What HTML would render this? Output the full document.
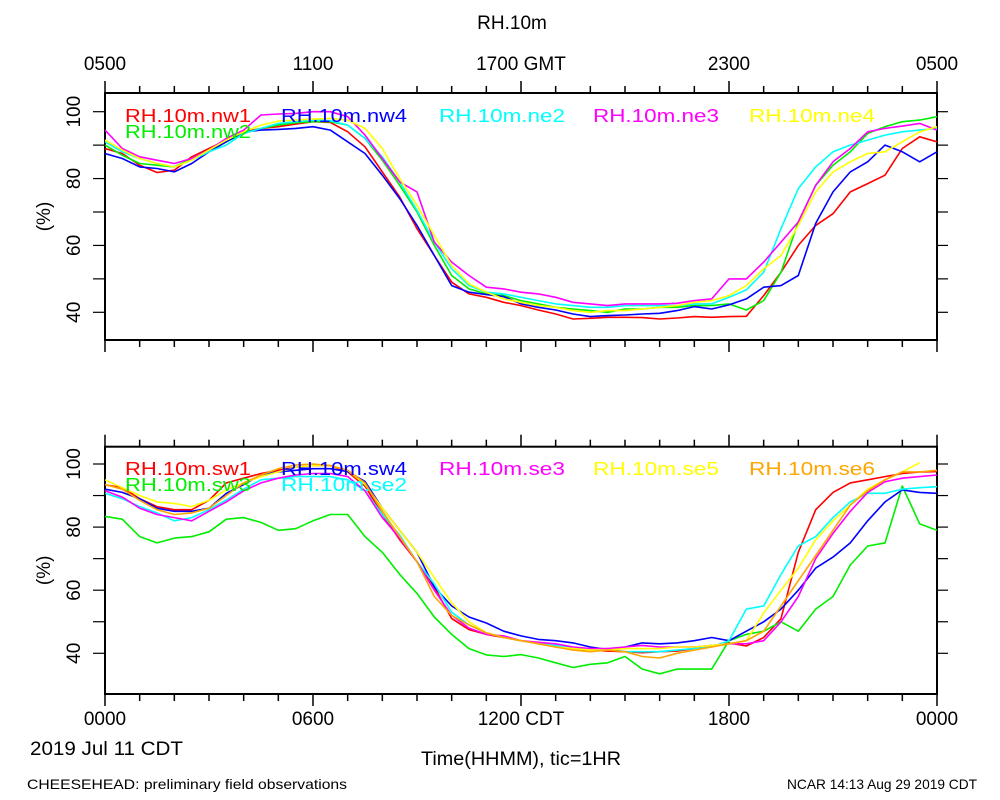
<!DOCTYPE html>
<html><head><meta charset="utf-8"><style>
body{margin:0;background:#fff;}
svg{display:block;font-family:"Liberation Sans",sans-serif;}
</style></head><body>
<svg id="chart" width="1000" height="800" viewBox="0 0 1000 800">
<text x="512" y="29" font-size="19" text-anchor="middle">RH.10m</text>
<g id="gmt-labels"></g>
<g id="p1"></g>
<g id="p2"></g>
<g id="cdt-labels"></g>
<text x="30" y="755" font-size="19" textLength="153" lengthAdjust="spacingAndGlyphs">2019 Jul 11 CDT</text>
<text x="521" y="765" font-size="19" text-anchor="middle" textLength="200" lengthAdjust="spacingAndGlyphs">Time(HHMM), tic=1HR</text>
<text x="27" y="789" font-size="14" textLength="320" lengthAdjust="spacingAndGlyphs">CHEESEHEAD: preliminary field observations</text>
<text x="977" y="789" font-size="14" text-anchor="end" textLength="190" lengthAdjust="spacingAndGlyphs">NCAR 14:13 Aug 29 2019 CDT</text>
</svg>
<script>
const hours = [0,0.5,1,1.5,2,2.5,3,3.5,4,4.5,5,5.5,6,6.5,7,7.5,8,8.5,9,9.5,10,10.5,11,11.5,12,12.5,13,13.5,14,14.5,15,15.5,16,16.5,17,17.5,18,18.5,19,19.5,20,20.5,21,21.5,22,22.5,23,23.5,24];
const gmtLabels = ["0500","1100","1700 GMT","2300","0500"];
const cdtLabels = ["0000","0600","1200 CDT","1800","0000"];
const yTickLabels = [40,60,80,100];
const topNames = ["RH.10m.nw1","RH.10m.nw2","RH.10m.nw4","RH.10m.ne2","RH.10m.ne3","RH.10m.ne4"];
const botNames = ["RH.10m.sw1","RH.10m.sw3","RH.10m.sw4","RH.10m.se2","RH.10m.se3","RH.10m.se5","RH.10m.se6"];
const nw1 = [89,87.5,84,81.8,82.5,86.5,89,91.5,94,95,95.5,96.3,97,96.8,94,89.5,82,74.5,65,57,49,45.5,44.5,43,42,40.7,39.5,38,38.2,38.5,38.5,38.4,38,38.3,38.7,38.5,38.7,38.8,45,52,60,66,69.5,76,78.5,81,89,92.5,91];
const nw2 = [90,87,84.5,84,83.5,86,88.5,91,93.5,95,96,96.7,97,97,96,92,85.5,78,70,60,51,47,45.5,45,43.5,42.5,41.5,41,40.5,40,41,41,41.5,41.5,42,42,42.5,40.7,43.5,52,67,78,84,88,93.5,95.5,97,97.5,98.5];
const nw4 = [87.5,86,83.5,83,82,84.5,88,91,94,94.5,94.7,95,95.5,94.5,91,87.5,81,74,66,57,48,46,45.3,44.7,42.5,41.5,40.7,39.5,38.7,39,39.2,39.5,39.7,40.5,41.7,41,42.2,44,47.5,48,51,66.6,76,82,85,90,88,85,88];
const ne2 = [91,88,86,84.5,83.5,85.5,88,90,93.5,95,96.5,97,97.5,97.3,96,92,86.5,79,70.5,61,53,48,46,45.5,44.5,43.5,42.5,42,41.5,41.5,42,42,42,42,42.5,42.5,44.5,46.7,52,65,77,83.5,88,90,91.5,93,94,94.5,95];
const ne3 = [94.5,89,86.5,85.5,84.5,86,88.5,92,94.5,99,99.3,99.5,100,100,98.5,93,86,79,76,61,55,51,47.5,47,46,45.5,44.5,43,42.5,42,42.5,42.5,42.5,42.7,43.5,44,50,50,55,61,67,78,85,89,94,95,95.7,96.5,94.5];
const ne4 = [91.5,88.5,86,84.5,83.5,85.5,88.5,91.5,94,96,97.2,97.5,97.8,98,97.5,95,89,80,72,63,54,48.5,46,44,43,42,41.5,40.5,40,40.5,40.5,41,41.5,42,43,43.5,45,48,53,57,66,76,82,85,87.5,88,91,94,95.5];
const sw1 = [93.4,92.5,89,86.5,85.5,85.5,88.5,94,95.5,97,98,99,99.5,99.5,97.5,93,84,76,69,61,51,47.5,46,45,44,43.3,42,41.2,41,40.7,40.5,40.2,40.5,40.7,41.5,42.3,43.3,42.3,45,51,72,85.5,91,94,95,96,97,97.5,97.6];
const sw3 = [83.4,82.5,77,75,76.5,77,78.5,82.5,83,81.5,79,79.5,82,84,84,77,72,65,59,51.5,46,41.5,39.5,39,39.6,38.5,37,35.5,36.5,37,39,35,33.5,35,35,35,44,46,47,50,47,54,58,68,74,75,93,81,79];
const sw4 = [92,91,89,86,85,85,86,90.7,93.5,96.5,97.5,98,98.5,98.5,97.6,94.5,86,79,72,61,55,51.5,49.6,47,45.5,44.4,44,43.3,42,41.2,42,43.3,43,43.3,44,45,44,47,50,54,60,67,70.5,75,82,88,91.8,91,90.7];
const se2 = [90.7,89,86.5,84.5,82,83,85.5,88.6,92,95,95.5,96,96,96,95,91.5,84,77.5,69,62,53,49,46.5,45,44,43,42.5,42,41,41.5,40.5,40.5,40.5,41,41.5,42,44,54,55,65,74,77,83,88,90.7,90.7,92,92.5,92.8];
const se3 = [91.5,89.5,86,84,83,82,85,88,91.5,94,95.5,96.5,97,97,96,91.5,83,76.5,69,60,52,48,46,45.5,44,43.5,43,42,41.5,41.5,42,42.5,42,42,42,42.5,43,43,44,50,58,70,78,85,91,94.4,95.5,96,96.5];
const se5 = [95,92.5,90,88,87.5,86.5,88.5,91.8,94,96,97.5,99,99.5,99.5,98,93.5,86,79,72,64,56,50,46.5,45,44,43,42,41.5,41,41,41.5,41.5,41.5,42,42,42.5,43,44,52.8,60,67,76,82,87,92,95,97.5,100.4,null];
const se6 = [93.5,92,88.5,85.5,84,84.5,86,90,94,96.5,98.5,99.7,100,99.5,98,94,85,77,69,58,52,49,46.5,45,44,43,42,41,40.5,41,40.5,39,38.5,40,41,42,43,44,47,55,63,71,79,87,91.5,95,97.5,97.5,98];

const NS="http://www.w3.org/2000/svg";
const X0=105,X1=937;
const xS=h=>X0+(X1-X0)*h/24;
function mk(tag,parent,attrs){const e=document.createElementNS(NS,tag);for(const k in attrs)e.setAttribute(k,attrs[k]);parent.appendChild(e);return e;}

function panel(g,top,bot,y40,y100,series,colors,names,legendY,legendCols){
  const yS=v=>y40+(y100-y40)*(v-40)/60;
  const fr=mk('rect',g,{x:X0,y:top,width:X1-X0,height:bot-top,fill:'none',stroke:'#000','stroke-width':2});
  
  
  for(let h=0;h<=24;h++){
    const L=(h%6===0)?12:7;const x=xS(h);
    const t1=mk('line',g,{x1:x,x2:x,y1:top,y2:top-L,stroke:'#000','stroke-width':1.5});
    
    
    const t2=mk('line',g,{x1:x,x2:x,y1:bot,y2:bot+L,stroke:'#000','stroke-width':1.5});
    
    
  }
  for(let v=40;v<=100;v+=10){
    const y=yS(v);
    const a=mk('line',g,{x1:X0-12,x2:X0,y1:y,y2:y,stroke:'#000','stroke-width':1.2});
    
    
    const b=mk('line',g,{x1:X1,x2:X1+11,y1:y,y2:y,stroke:'#000','stroke-width':1.2});
    
    
  }
  yTickLabels.forEach(v=>{
    const y=yS(v);
    const t=mk('text',g,{x:0,y:0,'font-size':19,'text-anchor':'middle',transform:`translate(80,${y}) rotate(-90)`});
    t.textContent=v;
    
    
  });
  const yl=mk('text',g,{x:0,y:0,'font-size':19,'text-anchor':'middle',transform:`translate(50,${(top+bot)/2}) rotate(-90)`});
  yl.textContent='(%)';
  
  
  const cp=mk('clipPath',g,{id:'clip'+Math.round(top)});mk('rect',cp,{x:X0,y:top,width:X1-X0,height:bot-top});
  series.forEach((s,i)=>{
    let d='';let pen=false;
    s.forEach((v,j)=>{if(v===null){pen=false;return;}d+=(pen?'L':'M')+xS(hours[j]).toFixed(1)+','+yS(v).toFixed(1);pen=true;});
    const p=mk('path',g,{d:d,fill:'none',stroke:colors[i],'stroke-width':1.6,'stroke-linejoin':'round','clip-path':`url(#clip${Math.round(top)})`});
    
    
  });
  names.forEach((n,i)=>{
    const [cx,row]=legendCols[i];
    const t=mk('text',g,{x:cx,y:legendY+row*16,'font-size':18,fill:colors[i],textLength:126,lengthAdjust:'spacingAndGlyphs'});
    t.textContent=n;
    
    
  });
}
panel(document.getElementById('p1'),93,340,312.3,111.7,[nw1,nw2,nw4,ne2,ne3,ne4],
  ['#ff0000','#00ee00','#0000ff','#00ffff','#ff00ff','#ffff00'],topNames,122,
  [[125,0],[125,1],[281,0],[439,0],[593,0],[749,0]]);
panel(document.getElementById('p2'),446.7,694,653.3,464,[sw1,sw3,sw4,se2,se3,se5,se6],
  ['#ff0000','#00ee00','#0000ff','#00ffff','#ff00ff','#ffff00','#ffa500'],botNames,475,
  [[125,0],[125,1],[281,0],[281,1],[439,0],[593,0],[749,0]]);

const gl=document.getElementById('gmt-labels');
gmtLabels.forEach((s,i)=>{const t=mk('text',gl,{x:xS(i*6),y:70,'font-size':19,'text-anchor':'middle'});t.textContent=s;
  
  });
const cl=document.getElementById('cdt-labels');
cdtLabels.forEach((s,i)=>{const t=mk('text',cl,{x:xS(i*6),y:725,'font-size':19,'text-anchor':'middle'});t.textContent=s;
  
  });
</script>
</body></html>
